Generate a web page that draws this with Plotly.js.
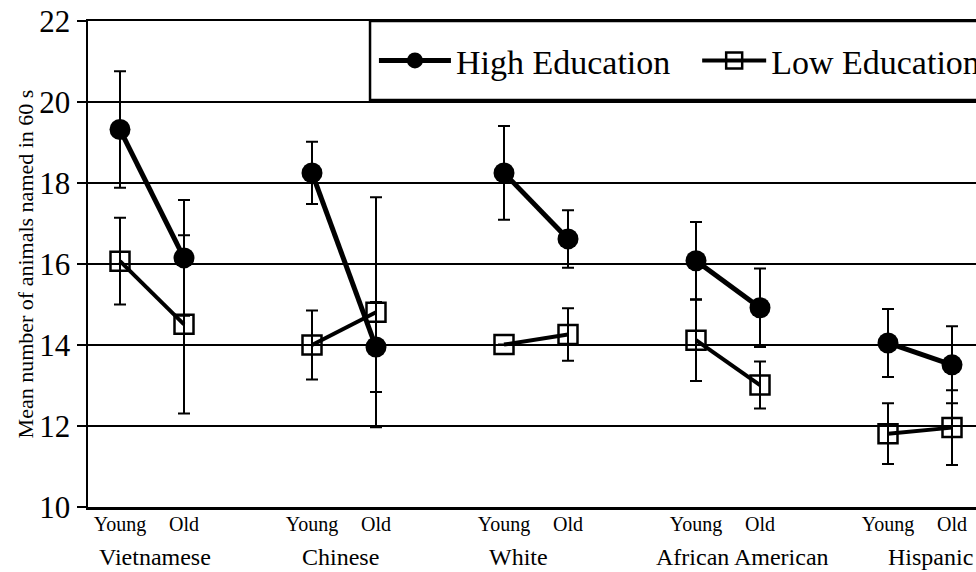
<!DOCTYPE html>
<html><head><meta charset="utf-8">
<script src="https://cdn.plot.ly/plotly-3.0.1.min.js"></script>
<style>html,body{margin:0;padding:0;background:#fff}#chart{width:976px;height:572px}</style>
</head><body><div id="chart"></div>
<script>
const groups = ["Vietnamese", "Chinese", "White", "African American", "Hispanic"];
const ageLabels = ["Young", "Old"];
const highYoung = [19.32, 18.25, 18.25, 16.08, 14.05];
const highOld   = [16.15, 13.95, 16.62, 14.92, 13.51];
const highYoungErr = [1.44, 0.77, 1.16, 0.96, 0.84];
const highOldErr   = [1.43, 1.11, 0.71, 0.97, 0.95];
const lowYoung = [16.07, 14.00, 14.01, 14.12, 11.81];
const lowOld   = [14.51, 14.81, 14.26, 13.01, 11.96];
const lowYoungErr = [1.07, 0.85, 0.0, 1.01, 0.75];
const lowOldErr   = [2.20, 2.84, 0.65, 0.58, 0.92];

const groupStep = 3;
function build(young, old, yErr, oErr) {
  const x = [], y = [], e = [];
  groups.forEach((g, i) => {
    x.push(i * groupStep, i * groupStep + 1, null);
    y.push(young[i], old[i], null);
    e.push(yErr[i], oErr[i], null);
  });
  return {x, y, e};
}
const hi = build(highYoung, highOld, highYoungErr, highOldErr);
const lo = build(lowYoung, lowOld, lowYoungErr, lowOldErr);
const serif = '"Liberation Serif", "Times New Roman", Times, serif';

const traces = [
  {x: hi.x, y: hi.y, name: "High Education", type: "scatter", mode: "lines+markers", legend: "legend",
   line: {color: "#000", width: 5}, marker: {symbol: "circle", size: 21, color: "#000"},
   error_y: {type: "data", array: hi.e, visible: true, color: "#000", thickness: 2, width: 6},
   connectgaps: false},
  {x: lo.x, y: lo.y, name: "Low Education", type: "scatter", mode: "lines+markers", legend: "legend2",
   line: {color: "#000", width: 4}, marker: {symbol: "square-open", size: 19, color: "#000", line: {width: 2.5, color: "#000"}},
   error_y: {type: "data", array: lo.e, visible: true, color: "#000", thickness: 2, width: 6},
   connectgaps: false}
];

const tickvals = [], ticktext = [];
groups.forEach((g, i) => { tickvals.push(i*groupStep, i*groupStep+1); ticktext.push(ageLabels[0], ageLabels[1]); });
const nameOffsets = [0.05, -0.06, -0.27, 0.22, 0.16];
const annotations = groups.map((g, i) => ({
  x: i*groupStep + 0.5 + nameOffsets[i], y: 0, xref: "x", yref: "paper", yshift: -50,
  text: g, showarrow: false, font: {family: serif, size: 24, color: "#000"}, yanchor: "middle"
}));

const legendBase = {orientation: "h", xanchor: "left", y: 0.918, yanchor: "middle",
  bgcolor: "rgba(0,0,0,0)", borderwidth: 0, font: {family: serif, size: 34, color: "#000"}};

const layout = {
  width: 976, height: 572,
  margin: {l: 88, r: 0, t: 21, b: 65, autoexpand: false},
  paper_bgcolor: "#fff", plot_bgcolor: "#fff",
  font: {family: serif, color: "#000"},
  xaxis: {range: [-0.5, 13.375], tickvals: tickvals, ticktext: ticktext, showgrid: false, zeroline: false,
          showline: true, linecolor: "#000", linewidth: 2.5, mirror: true, ticks: "",
          tickfont: {family: serif, size: 20}, ticklabelstandoff: -3},
  yaxis: {range: [10, 22], dtick: 2, tick0: 10, showgrid: true, gridcolor: "#000", gridwidth: 1.5,
          zeroline: false, showline: true, linecolor: "#000", linewidth: 2.5, ticks: "outside",
          ticklen: 9, tickwidth: 1.5, tickcolor: "#000", tickfont: {family: serif, size: 31},
          title: {text: "Mean number of animals named in 60 s", font: {family: serif, size: 22}, standoff: 0}},
  showlegend: true,
  legend: Object.assign({}, legendBase, {x: 0.322, itemwidth: 72}),
  legend2: Object.assign({}, legendBase, {x: 0.686, itemwidth: 64}),
  shapes: [{type: "rect", xref: "paper", yref: "paper", x0: 0.3176, x1: 1.05, y0: 0.8374, y1: 1.0,
            line: {color: "#000", width: 2.5}, fillcolor: "#fff", layer: "above"}],
  annotations: annotations
};
Plotly.newPlot("chart", traces, layout, {displayModeBar: false, staticPlot: true});
</script></body></html>
